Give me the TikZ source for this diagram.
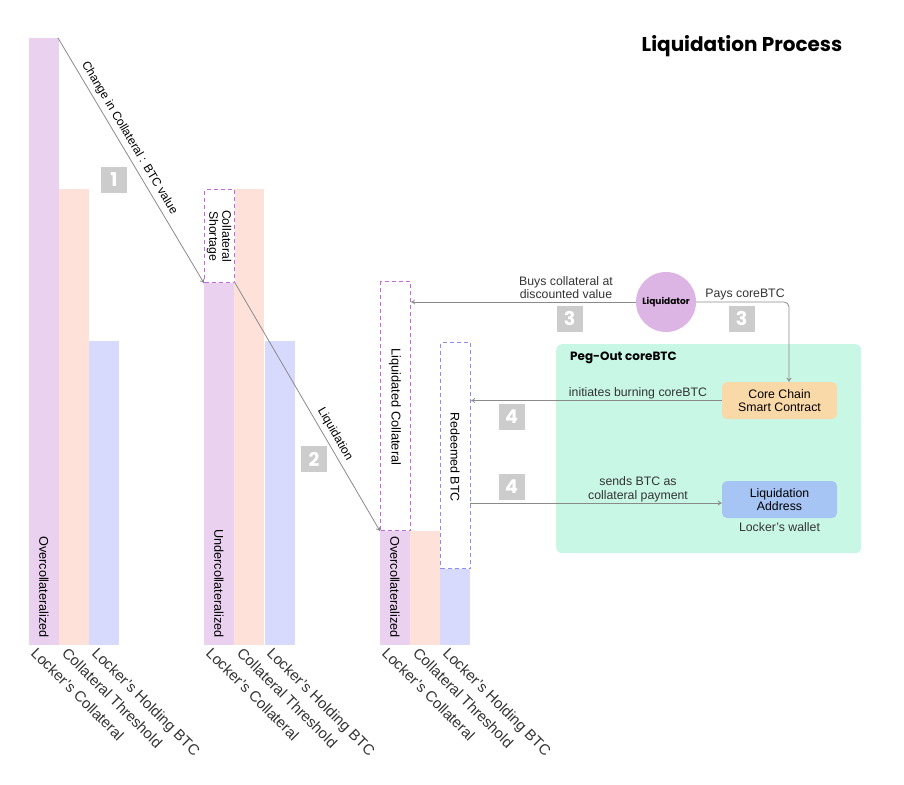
\documentclass[tikz,border=0pt]{standalone}
\usepackage{fontspec}
\setmainfont{Liberation Sans}
\newfontfamily\titlefont{Poppins}
\usetikzlibrary{arrows.meta}
\definecolor{barpurple}{HTML}{E9D1EF}
\definecolor{barpeach}{HTML}{FEE1D8}
\definecolor{barblue}{HTML}{D7DAFC}
\definecolor{dashpurple}{HTML}{C36BDD}
\definecolor{dashblue}{HTML}{8C8CF4}
\definecolor{numgray}{HTML}{CCCCCC}
\definecolor{linegray}{HTML}{8A8A8A}
\definecolor{mint}{HTML}{C8F7E6}
\definecolor{coreorange}{HTML}{FAD9A9}
\definecolor{addrblue}{HTML}{A6C4F4}
\definecolor{liqpurple}{HTML}{DDB5E5}
\begin{document}
\begin{tikzpicture}[x=1pt,y=-1pt,
  bar/.style={draw=none,minimum width=30pt,inner sep=0pt,anchor=south west},
  dashbox/.style={draw,dashed,dash pattern=on 4pt off 3pt,line width=1.1pt,fill=white,minimum width=30pt,inner sep=0pt,anchor=north west},
  barlabel/.style={font=\fontsize{12.7}{14}\selectfont,rotate=-90,anchor=east,inner sep=0pt},
  axlabel/.style={font=\fontsize{15}{17}\selectfont,text=black!80,rotate=-45,anchor=base west,inner sep=0pt},
  numbox/.style={fill=numgray,minimum width=26pt,minimum height=26pt,inner sep=0pt,text=white,font=\titlefont\bfseries\fontsize{19}{19}\selectfont},
  conn/.style={draw=linegray,line width=0.8pt,-{To[length=4pt,width=5pt]}},
  lbl/.style={font=\fontsize{12.3}{13.5}\selectfont,text=black!80,align=center,inner sep=1pt},
  panelbox/.style={rounded corners=5pt,minimum width=115pt,minimum height=37pt,inner sep=0pt,align=center,font=\fontsize{12.3}{13.5}\selectfont}
]
\useasboundingbox (0,0) rectangle (904,784);
% title
\node[font=\titlefont\bfseries\fontsize{20}{22}\selectfont] (title) at (742,46) {Liquidation Process};

% group 1
\node[bar,fill=barpurple,minimum height=607pt] (g1a) at (29,645) {};
\node[bar,fill=barpeach,minimum height=456pt] (g1b) at (59,645) {};
\node[bar,fill=barblue,minimum height=304pt] (g1c) at (89,645) {};
\node[barlabel] (g1t) at (44,638) {Overcollateralized};
\node[axlabel] (l1a) at (30,654) {Locker’s Collateral};
\node[axlabel] (l1b) at (61,654) {Collateral Threshold};
\node[axlabel] (l1c) at (91,654) {Locker’s Holding BTC};

% group 2
\node[bar,fill=barpurple,minimum height=363pt] (g2a) at (204,645) {};
\node[bar,fill=barpeach,minimum height=456pt] (g2b) at (234,645) {};
\node[bar,fill=barblue,minimum height=304pt] (g2c) at (265,645) {};
\node[dashbox,draw=dashpurple,minimum height=93pt] (short) at (204,189) {};
\node[font=\fontsize{12.3}{13}\selectfont,rotate=-90,align=center,inner sep=0pt] (shortt) at (219,236) {Collateral\\Shortage};
\node[barlabel] (g2t) at (219,638) {Undercollateralized};
\node[axlabel] (l2a) at (205,654) {Locker’s Collateral};
\node[axlabel] (l2b) at (236,654) {Collateral Threshold};
\node[axlabel] (l2c) at (266,654) {Locker’s Holding BTC};

% group 3
\node[bar,fill=barpurple,minimum height=114pt] (g3a) at (380,645) {};
\node[bar,fill=barpeach,minimum height=114pt] (g3b) at (410,645) {};
\node[bar,fill=barblue,minimum height=77pt] (g3c) at (440,645) {};
\node[dashbox,draw=dashpurple,minimum height=249pt] (liqc) at (380,281) {};
\node[dashbox,draw=dashblue,minimum height=226pt] (red) at (440,342) {};
\node[font=\fontsize{12.8}{14}\selectfont,rotate=-90,inner sep=0pt] (liqct) at (395,407) {Liquidated Collateral};
\node[font=\fontsize{12.5}{14}\selectfont,rotate=-90,inner sep=0pt] (redt) at (455,457) {Redeemed BTC};
\node[barlabel] (g3t) at (395,638) {Overcollateralized};
\node[axlabel] (l3a) at (381,654) {Locker’s Collateral};
\node[axlabel] (l3b) at (412,654) {Collateral Threshold};
\node[axlabel] (l3c) at (442,654) {Locker’s Holding BTC};

% diagonal arrows
\coordinate (s1) at (58,38);
\draw[conn] (s1) -- (short.south west)
  node[pos=0.43,sloped,above=3pt,font=\fontsize{12}{13}\selectfont,inner sep=1pt] (c1t) {Change in Collateral : BTC value};
\draw[conn] (short.south east) -- (liqc.south west)
  node[pos=0.63,sloped,above=3pt,font=\fontsize{12}{13}\selectfont,inner sep=1pt] (c2t) {Liquidation};
\node[numbox] (n1) at (114,180) {1};
\node[numbox] (n2) at (314,459) {2};

% panel
\node[fill=mint,rounded corners=6pt,minimum width=305pt,minimum height=209pt,inner sep=0pt,anchor=north west] (panel) at (556,344) {};
\node[font=\titlefont\bfseries\fontsize{12}{13}\selectfont,anchor=west,inner sep=0pt] (pegt) at (570,358) {Peg-Out coreBTC};
\node[panelbox,fill=coreorange] (core) at (779.5,400.5) {Core Chain\\Smart Contract};
\node[panelbox,fill=addrblue] (addr) at (779.5,499.5) {Liquidation\\Address};
\node[lbl] (wallet) at (779.5,527) {Locker’s wallet};

% liquidator
\node[circle,fill=liqpurple,minimum size=60pt,inner sep=0pt,font=\titlefont\bfseries\fontsize{9}{10}\selectfont] (liq) at (666,302) {Liquidator};

% connectors on the right
\draw[conn] (liq.west) -- (liqc.east |- liq.west);
\node[lbl] (buyt) at (566,287.5) {Buys collateral at\\discounted value};
\node[numbox] (n3a) at (569.5,318.5) {3};
\draw[conn,rounded corners=5pt] (liq.east) -- (789,302) -- (core.north -| 789,0);
\node[lbl] (payt) at (745,294) {Pays coreBTC};
\node[numbox] (n3b) at (741.5,318.5) {3};

\draw[conn] (core.west) -- (red.east |- core.west);
\node[lbl] (burnt) at (638,393) {initiates burning coreBTC};
\node[numbox] (n4a) at (511.5,416.5) {4};

\coordinate (redout) at (470,503);
\draw[conn] (redout) -- (addr.west |- redout);
\node[lbl] (sendt) at (638,489.5) {sends BTC as\\collateral payment};
\node[numbox] (n4b) at (511.5,486.5) {4};
\end{tikzpicture}
\end{document}
